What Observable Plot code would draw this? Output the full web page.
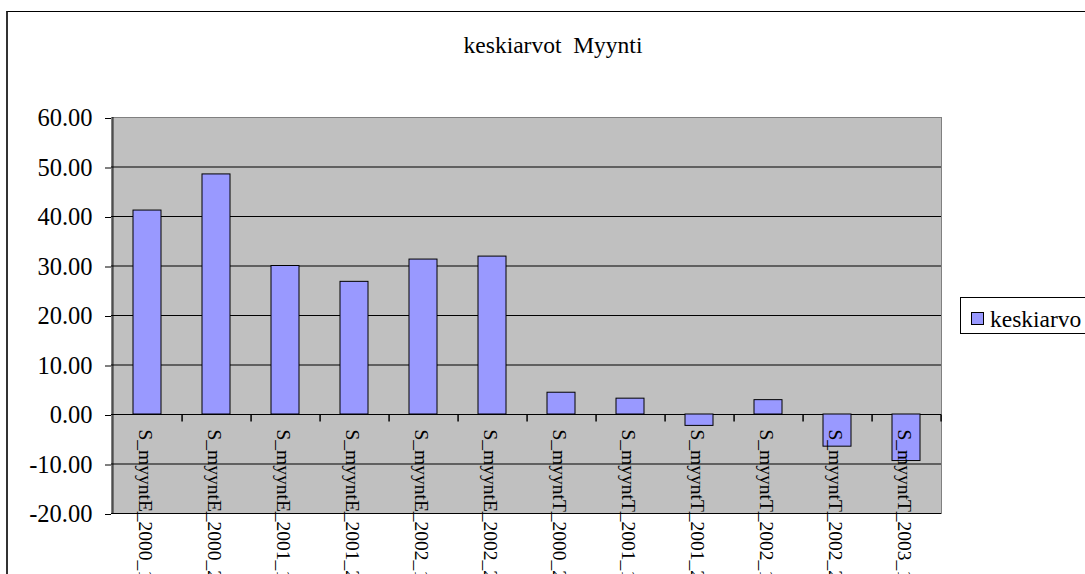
<!DOCTYPE html>
<html><head><meta charset="utf-8">
<script src="https://cdn.jsdelivr.net/npm/d3@7"></script>
<script src="https://cdn.jsdelivr.net/npm/@observablehq/plot@0.6"></script>
<style>
html,body{margin:0;padding:0;width:1085px;height:574px;overflow:hidden;background:#fff;}
#chart{position:absolute;left:0;top:0;}
#chart svg text{font-family:"Liberation Serif", "Times New Roman", serif !important;}
#border{position:absolute;left:6px;top:11px;width:2000px;height:2000px;border-top:1px solid #000;border-left:2px solid #333;box-sizing:border-box;}
#title{position:absolute;left:0;top:34px;width:1106px;text-align:center;font:23.5px "Liberation Serif";line-height:23px;white-space:pre;color:#000;}
#legend{position:absolute;left:960px;top:297px;width:300px;height:37px;border:1px solid #000;box-sizing:border-box;background:#fff;}
#legend .sw{position:absolute;left:10px;top:14px;width:13px;height:13px;background:#9999FF;border:1px solid #000;box-sizing:border-box;}
#legend .lt{position:absolute;left:29px;top:10px;font:23.5px "Liberation Serif";line-height:22px;color:#000;white-space:pre;}
</style></head><body>
<div id="border"></div>
<div id="chart"></div>
<div id="title"></div>
<div id="legend"><span class="sw"></span><span class="lt"></span></div>
<script>
const titleText = "keskiarvot  Myynti";
const legendLabel = "keskiarvo";
const categories = ["S_myyntE_2000_1","S_myyntE_2000_2","S_myyntE_2001_1","S_myyntE_2001_2","S_myyntE_2002_1","S_myyntE_2002_2","S_myyntT_2000_2","S_myyntT_2001_1","S_myyntT_2001_2","S_myyntT_2002_1","S_myyntT_2002_2","S_myyntT_2003_1"];
const values = [41.2, 48.5, 30.0, 26.8, 31.3, 31.9, 4.4, 3.2, -2.3, 2.9, -6.5, -9.4];
const yTicks = [-20, -10, 0, 10, 20, 30, 40, 50, 60];
const gridTicks = [-20, -10, 0, 10, 20, 30, 40, 50];

document.getElementById("title").textContent = titleText;
document.querySelector("#legend .lt").textContent = legendLabel;

const W = 1085, H = 574, ML = 111, MR = 144, MT = 117, MB = 61;
const step = (W - ML - MR) / categories.length;
const data = categories.map((c, i) => ({cat: c, value: values[i]}));
const tickSymbol = {draw(context) { context.moveTo(0, 0); context.lineTo(0, 7); }};

const chart = Plot.plot({
  width: W, height: H,
  marginLeft: ML, marginRight: MR, marginTop: MT, marginBottom: MB,
  style: {background: "transparent", color: "black", overflow: "hidden"},
  x: {type: "band", domain: categories, paddingInner: 0.6, paddingOuter: 0.3, axis: null},
  y: {domain: [yTicks[0], yTicks[yTicks.length - 1]], axis: null},
  marks: [
    Plot.frame({fill: "#C0C0C0", stroke: "#808080"}),
    Plot.ruleY(gridTicks, {stroke: "black", strokeWidth: 1}),
    Plot.barY(data, {x: "cat", y1: 0, y2: "value", fill: "#9999FF", stroke: "black", strokeWidth: 1}),
    Plot.ruleX([categories[0]], {y1: yTicks[0], y2: yTicks[yTicks.length - 1], dx: -step / 2, stroke: "black"}),
    Plot.dot(categories, {x: d => d, y: () => 0, dx: step / 2, symbol: tickSymbol, fill: "none", stroke: "black"}),
    Plot.axisY(yTicks, {tickSize: 6, tickPadding: 13, tickFormat: d => d.toFixed(2), fontSize: 24.5, dy: 1, stroke: "black", label: null}),
    Plot.text(data, {x: "cat", y: () => 0, text: "cat", rotate: 90, textAnchor: "start", lineAnchor: "middle", dy: 15, dx: -2, fontSize: 19.5, fill: "black"})
  ]
});
document.getElementById("chart").appendChild(chart);
</script>
</body></html>
